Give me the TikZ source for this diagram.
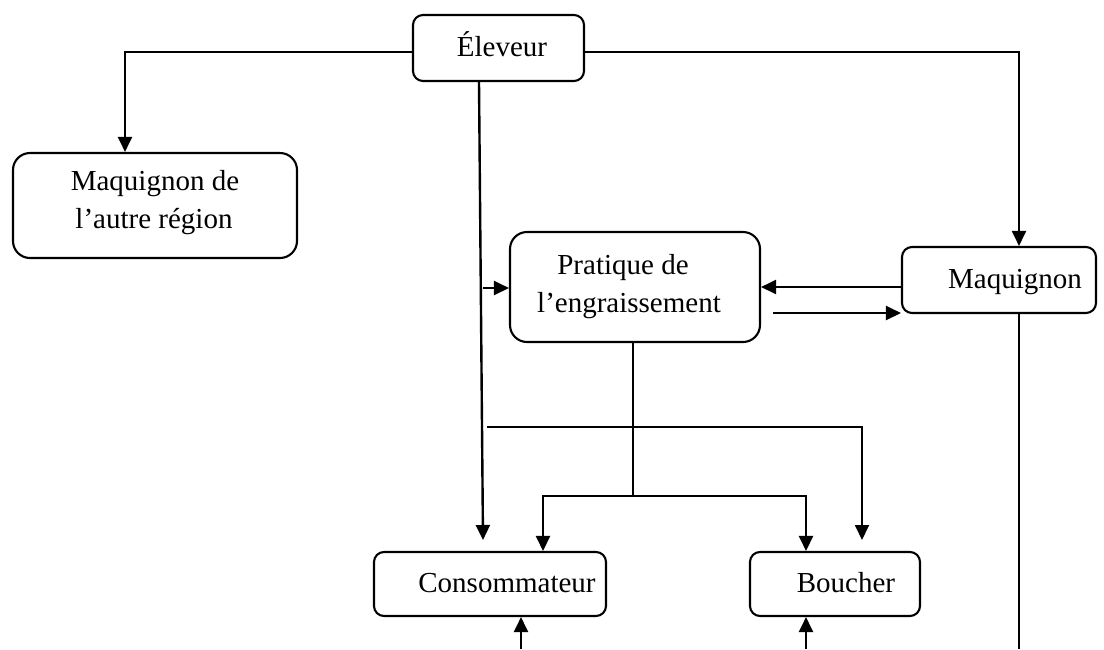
\documentclass[tikz,border=0pt]{standalone}
\usepackage{fontspec}
\setmainfont{Liberation Serif}
\usetikzlibrary{arrows.meta,calc}
\begin{document}
\begin{tikzpicture}[x=1pt,y=-1pt,
  box/.style={draw, line width=2.1pt, inner sep=0pt},
  lbl/.style={anchor=base, inner sep=0pt, font=\fontsize{29}{38}\selectfont},
  link/.style={line width=2pt},
  arr/.style={line width=2.4pt, -{Triangle[length=15pt,width=14pt]}}]
\useasboundingbox (0,0) rectangle (1104,649);

% boxes
\node[box, rounded corners=10pt, minimum width=171pt, minimum height=66pt] (eleveur) at (498.5,48) {};
\node[box, rounded corners=17pt, minimum width=284pt, minimum height=105pt] (autre) at (155,205.5) {};
\node[box, rounded corners=17pt, minimum width=250pt, minimum height=110pt] (pratique) at (635,287) {};
\node[box, rounded corners=10pt, minimum width=194pt, minimum height=66pt] (maq) at (999,280) {};
\node[box, rounded corners=10pt, minimum width=232pt, minimum height=64pt] (conso) at (490,584) {};
\node[box, rounded corners=10pt, minimum width=170pt, minimum height=64pt] (boucher) at (835,584) {};

% labels
\node[lbl] (eleveur-t) at (502,56) {Éleveur};
\node[lbl] (autre-t1) at (155,190) {Maquignon de};
\node[lbl] (autre-t2) at (154,228) {l’autre région};
\node[lbl] (pratique-t1) at (623,274) {Pratique de};
\node[lbl] (pratique-t2) at (629,312) {l’engraissement};
\node[lbl] (maq-t) at (1015,288) {Maquignon};
\node[lbl] (conso-t) at (507,592) {Consommateur};
\node[lbl] (boucher-t) at (846,592) {Boucher};

% free ends
\coordinate (vEnd) at (483,540);
\coordinate (vTap) at (483,288);
\coordinate (hStart) at (487,427);
\coordinate (hEnd) at (862,540);
\coordinate (split) at (633,496);
\coordinate (backStart) at (773,313);
\coordinate (maqDown) at (1019,649);
\coordinate (consoIn) at (521,649);
\coordinate (boucherIn) at (806,649);

% connectors from the breeder
\draw[arr, line width=2pt] (eleveur.west |- 0,52) -| (125,0 |- autre.north);
\draw[arr, line width=2pt] (eleveur.east |- 0,52) -| (1019,0 |- maq.north);
\draw[arr] (479,0 |- eleveur.south) -- (vEnd);
\draw[arr] (vTap) -- (pratique.west |- vTap);
\draw[arr, line width=1.8pt] (hStart) -| (hEnd);

% fattening branch
\draw[link] (633,0 |- pratique.south) -- (split);
\draw[arr] (split) -| (543,0 |- conso.north);
\draw[arr] (split) -| (806,0 |- boucher.north);

% exchanges with the dealer
\draw[arr] (maq.west |- 0,287) -- (pratique.east |- 0,287);
\draw[arr] (backStart) -- (maq.west |- backStart);
\draw[link, line width=2.4pt] (1019,0 |- maq.south) -- (maqDown);

% inputs from below
\draw[arr] (consoIn) -- (521,0 |- conso.south);
\draw[arr] (boucherIn) -- (806,0 |- boucher.south);
\end{tikzpicture}
\end{document}
